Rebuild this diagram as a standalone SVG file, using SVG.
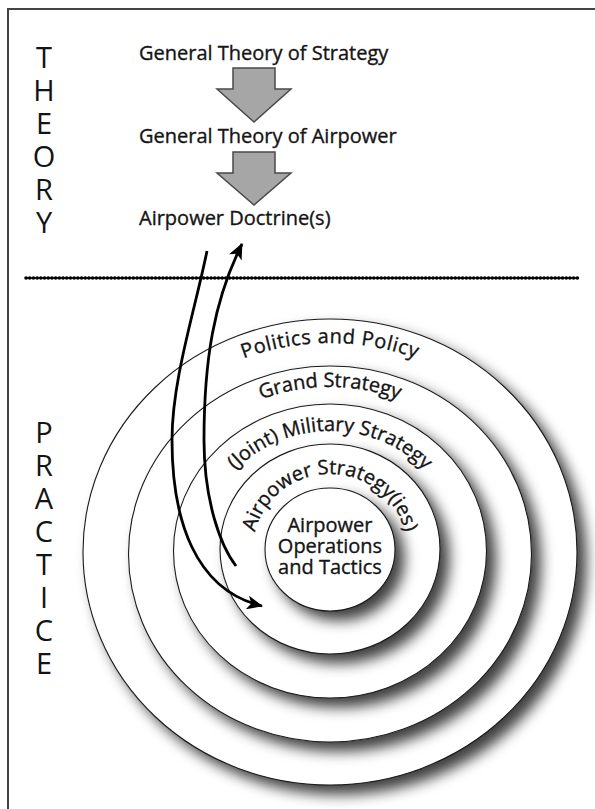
<svg xmlns="http://www.w3.org/2000/svg" xmlns:xlink="http://www.w3.org/1999/xlink" width="595" height="809" viewBox="0 0 595 809">
<style>
.lbl{font-family:"Open Sans","Noto Sans","DejaVu Sans",sans-serif;font-size:20px;fill:#141414;stroke:#141414;stroke-width:0.35}
.big{font-family:"Open Sans","Noto Sans","DejaVu Sans",sans-serif;font-size:29px;fill:#141414;text-anchor:middle}
.ring{fill:#fff;stroke:#1a1a1a;stroke-width:1.1}
.blk{fill:#a6a6a6;stroke:#4a4a4a;stroke-width:1.5;stroke-linejoin:miter}
.cur{fill:none;stroke:#000;stroke-width:2.8;stroke-linecap:butt}
</style>
<defs>
<filter id="sh" x="-20%" y="-20%" width="150%" height="150%">
<feDropShadow dx="9" dy="9" stdDeviation="7" flood-color="#000" flood-opacity="0.75"/>
</filter>
<marker id="ah" markerUnits="userSpaceOnUse" markerWidth="18" markerHeight="14" refX="15" refY="7" orient="auto">
<path d="M0,0 L16,7 L0,14 L4,7 Z" fill="#000"/>
</marker>
<path id="pPol" d="M102,551 A228,208 0 0 1 558,551"/>
<path id="pGra" d="M148,553 A182,166 0 0 1 512,553"/>
<path id="pMil" d="M202,551 A128,120 0 0 1 458,551"/>
<path id="pAir" d="M253,549 A77,75 0 0 1 407,549"/>
</defs>
<rect width="595" height="809" fill="#fff"/>
<rect id="frame" x="8" y="9" width="620" height="830" fill="none" stroke="#444" stroke-width="2"/>

<g id="theory-label">
<text class="big" x="44" y="68">T</text>
<text class="big" x="44" y="101">H</text>
<text class="big" x="44" y="134">E</text>
<text class="big" x="44" y="167">O</text>
<text class="big" x="44" y="200">R</text>
<text class="big" x="44" y="233">Y</text>
</g>
<g id="practice-label">
<text class="big" x="44" y="443">P</text>
<text class="big" x="44" y="476">R</text>
<text class="big" x="44" y="509">A</text>
<text class="big" x="44" y="542">C</text>
<text class="big" x="44" y="575">T</text>
<text class="big" x="44" y="608">I</text>
<text class="big" x="44" y="641">C</text>
<text class="big" x="44" y="674">E</text>
</g>

<g id="divider">
<line x1="25" y1="278" x2="579" y2="278" stroke="#000" stroke-width="1.5"/>
<line x1="26" y1="278" x2="579" y2="278" stroke="#000" stroke-width="3.6" stroke-linecap="round" stroke-dasharray="0.1 3.6"/>
</g>

<g id="node-general-theory-strategy"><text class="lbl" x="139" y="60">General Theory of Strategy</text></g>
<g id="node-general-theory-airpower"><text class="lbl" x="139" y="143">General Theory of Airpower</text></g>
<g id="node-airpower-doctrine"><text class="lbl" x="139" y="225">Airpower Doctrine(s)</text></g>

<g id="node-politics-policy">
<ellipse class="ring" cx="330" cy="552" rx="247" ry="233" filter="url(#sh)"/>
<text class="lbl" text-anchor="middle" style="letter-spacing:0.6px"><textPath xlink:href="#pPol" href="#pPol" startOffset="50%">Politics and Policy</textPath></text>
</g>
<g id="node-grand-strategy">
<ellipse class="ring" cx="330" cy="554" rx="201.5" ry="188" filter="url(#sh)"/>
<text class="lbl" text-anchor="middle"><textPath xlink:href="#pGra" href="#pGra" startOffset="50%">Grand Strategy</textPath></text>
</g>
<g id="node-military-strategy">
<ellipse class="ring" cx="330" cy="551" rx="156.5" ry="147" filter="url(#sh)"/>
<text class="lbl" text-anchor="middle"><textPath xlink:href="#pMil" href="#pMil" startOffset="50%">(Joint) Military Strategy</textPath></text>
</g>
<g id="node-airpower-strategy">
<ellipse class="ring" cx="330" cy="549" rx="110" ry="105" filter="url(#sh)"/>
<text class="lbl" text-anchor="middle"><textPath xlink:href="#pAir" href="#pAir" startOffset="50%">Airpower Strategy(ies)</textPath></text>
</g>
<g id="node-operations-tactics">
<ellipse class="ring" cx="330" cy="549.5" rx="65" ry="61.5" filter="url(#sh)"/>
<text class="lbl" text-anchor="middle" x="330" y="532">Airpower</text>
<text class="lbl" text-anchor="middle" x="330" y="553">Operations</text>
<text class="lbl" text-anchor="middle" x="330" y="574">and Tactics</text>
</g>

<g id="connectors">
<polygon class="blk" points="233,68 275,68 275,89 291,89 254,122 217,89 233,89"/>
<polygon class="blk" points="233,152 275,152 275,173 291,173 254,205 217,173 233,173"/>
<path class="cur" d="M207,251 C195,310 172,380 172,440 C172,520 195,590 262,606" marker-end="url(#ah)"/>
<path class="cur" d="M236,566 C220,545 204,500 204,440 C204,360 214,300 242,244" marker-end="url(#ah)"/>
</g>
</svg>
